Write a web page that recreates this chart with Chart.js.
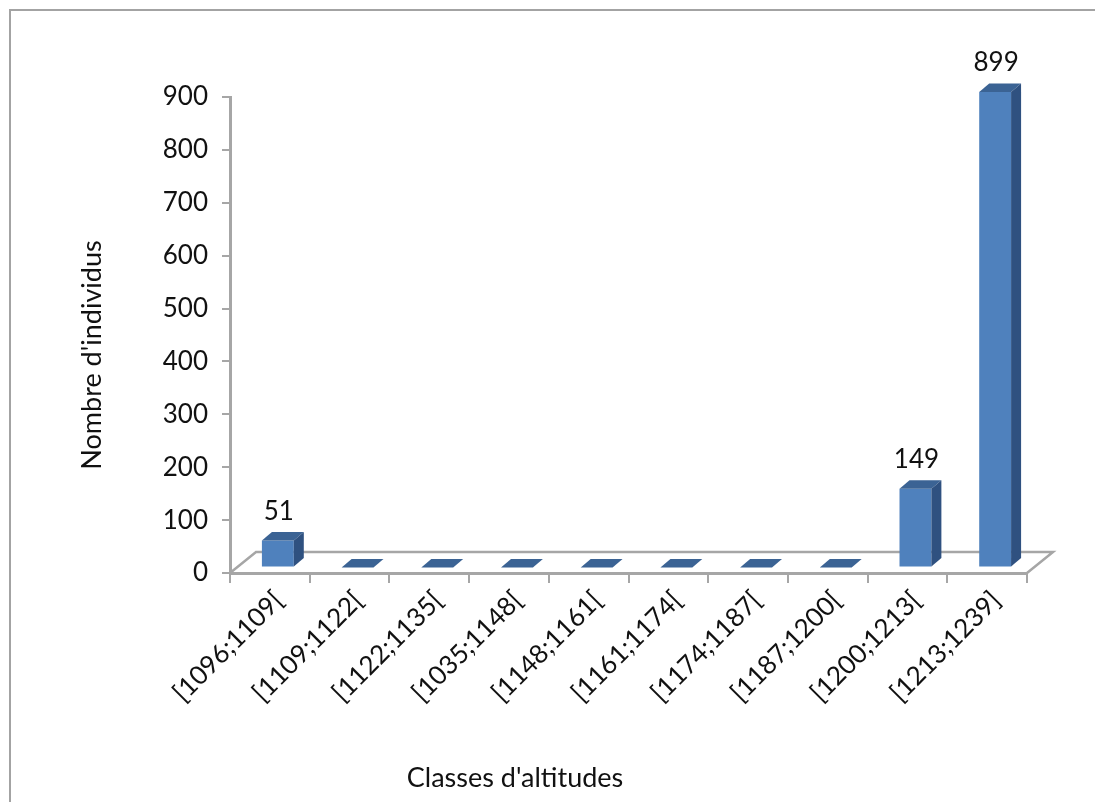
<!DOCTYPE html>
<html lang="fr">
<head>
<meta charset="utf-8">
<title>Classes d'altitudes</title>
<script src="https://cdn.jsdelivr.net/npm/chart.js@4/dist/chart.umd.min.js"></script>
<style>
    html, body { margin: 0; padding: 0; background: #fff; overflow: hidden; }
    #cadre { position: absolute; left: 9px; top: 9px; width: 1100px; height: 800px; border: 2px solid #a3a3a3; box-sizing: border-box; }
    #zone { position: absolute; left: 0; top: 0; width: 1095px; height: 802px; }
</style>
</head>
<body>
<div id="cadre"></div>
<div id="zone"><canvas id="graphique"></canvas></div>
<script>
const classes = ['[1096;1109[', '[1109;1122[', '[1122;1135[', '[1035;1148[', '[1148;1161[',
    '[1161;1174[', '[1174;1187[', '[1187;1200[', '[1200;1213[', '[1213;1239]'];
const individus = [51, 0, 0, 0, 0, 0, 0, 0, 149, 899];
const etiquettes = [51, null, null, null, null, null, null, null, 149, 899];
const titreX = "Classes d'altitudes";
const titreY = "Nombre d'individus";

const police = 'Lato, sans-serif';
const gris = '#a6a6a6';
const noir = '#111111';

// décalage de la colonne sur le plancher et profondeur de la colonne
const decalage = { x: 8, y: -5.5 };
const profondeur = { x: 10, y: -8.5 };
const plancher = { x: 26, y: -21 };

function polygone(ctx, points, couleur) {
    ctx.fillStyle = couleur;
    ctx.beginPath();
    points.forEach((p, i) => (i ? ctx.lineTo(p[0], p[1]) : ctx.moveTo(p[0], p[1])));
    ctx.closePath();
    ctx.fill();
}

// plancher et paroi du fond, puis faces latérales des colonnes
const effet3d = {
    id: 'effet3d',
    beforeDatasetsDraw(chart) {
        const { ctx, chartArea: a } = chart;
        ctx.save();
        ctx.strokeStyle = gris;
        ctx.lineWidth = 2.5;
        ctx.beginPath();
        ctx.moveTo(a.left, a.bottom);
        ctx.lineTo(a.left + plancher.x, a.bottom + plancher.y);
        ctx.lineTo(a.right + plancher.x, a.bottom + plancher.y);
        ctx.lineTo(a.right, a.bottom);
        ctx.stroke();
        ctx.restore();
    },
    beforeDatasetDraw(chart) {
        chart.ctx.save();
        chart.ctx.translate(decalage.x, decalage.y);
    },
    afterDatasetDraw(chart, args) {
        const ctx = chart.ctx;
        args.meta.data.forEach((barre) => {
            const g = barre.x - barre.width / 2;
            const d = barre.x + barre.width / 2;
            const dx = profondeur.x;
            const dy = profondeur.y;
            polygone(ctx, [[g, barre.y], [d, barre.y], [d + dx, barre.y + dy], [g + dx, barre.y + dy]], '#3b6394');
            polygone(ctx, [[d, barre.y], [d + dx, barre.y + dy], [d + dx, barre.base + dy], [d, barre.base]], '#2f5180');
        });
        ctx.restore();
    },
    afterDatasetsDraw(chart) {
        const ctx = chart.ctx;
        ctx.save();
        ctx.font = '26px ' + police;
        ctx.fillStyle = noir;
        ctx.textAlign = 'center';
        ctx.textBaseline = 'middle';
        chart.getDatasetMeta(0).data.forEach((barre, i) => {
            if (etiquettes[i] === null) return;
            ctx.fillText(etiquettes[i], barre.x + decalage.x + 1, barre.y + decalage.y - 29);
        });
        // les titres d'axes ne sont pas centrés sur le tracé
        ctx.font = '27px ' + police;
        ctx.fillText(titreX, 515, 778);
        ctx.translate(92, 355);
        ctx.rotate(-Math.PI / 2);
        ctx.fillText(titreY, 0, 0);
        ctx.restore();
    }
};

new Chart(document.getElementById('graphique'), {
    type: 'bar',
    data: {
        labels: classes,
        datasets: [{
            data: individus,
            backgroundColor: '#4f81bd',
            borderWidth: 0,
            barPercentage: 0.4,
            categoryPercentage: 1,
            clip: false
        }]
    },
    options: {
        responsive: true,
        maintainAspectRatio: false,
        animation: false,
        layout: { padding: { left: 78, top: 97, right: 68, bottom: 8 } },
        plugins: { legend: { display: false }, tooltip: { enabled: false }, title: { display: false } },
        scales: {
            x: {
                grid: { drawOnChartArea: false, color: gris, lineWidth: 2, tickLength: 10 },
                border: { color: gris, width: 3 },
                ticks: { color: noir, font: { family: police, size: 26 }, maxRotation: 45, minRotation: 45, padding: 2, labelOffset: 9, autoSkip: false },
                afterFit(axis) { axis.height = 221; }
            },
            y: {
                min: 0,
                max: 900,
                grid: { drawOnChartArea: false, color: gris, lineWidth: 2, tickLength: 8 },
                border: { color: gris, width: 3 },
                ticks: { stepSize: 100, color: noir, font: { family: police, size: 26 }, padding: 14 },
                afterFit(axis) { axis.width = 152; }
            }
        }
    },
    plugins: [effet3d]
});
</script>
</body>
</html>
